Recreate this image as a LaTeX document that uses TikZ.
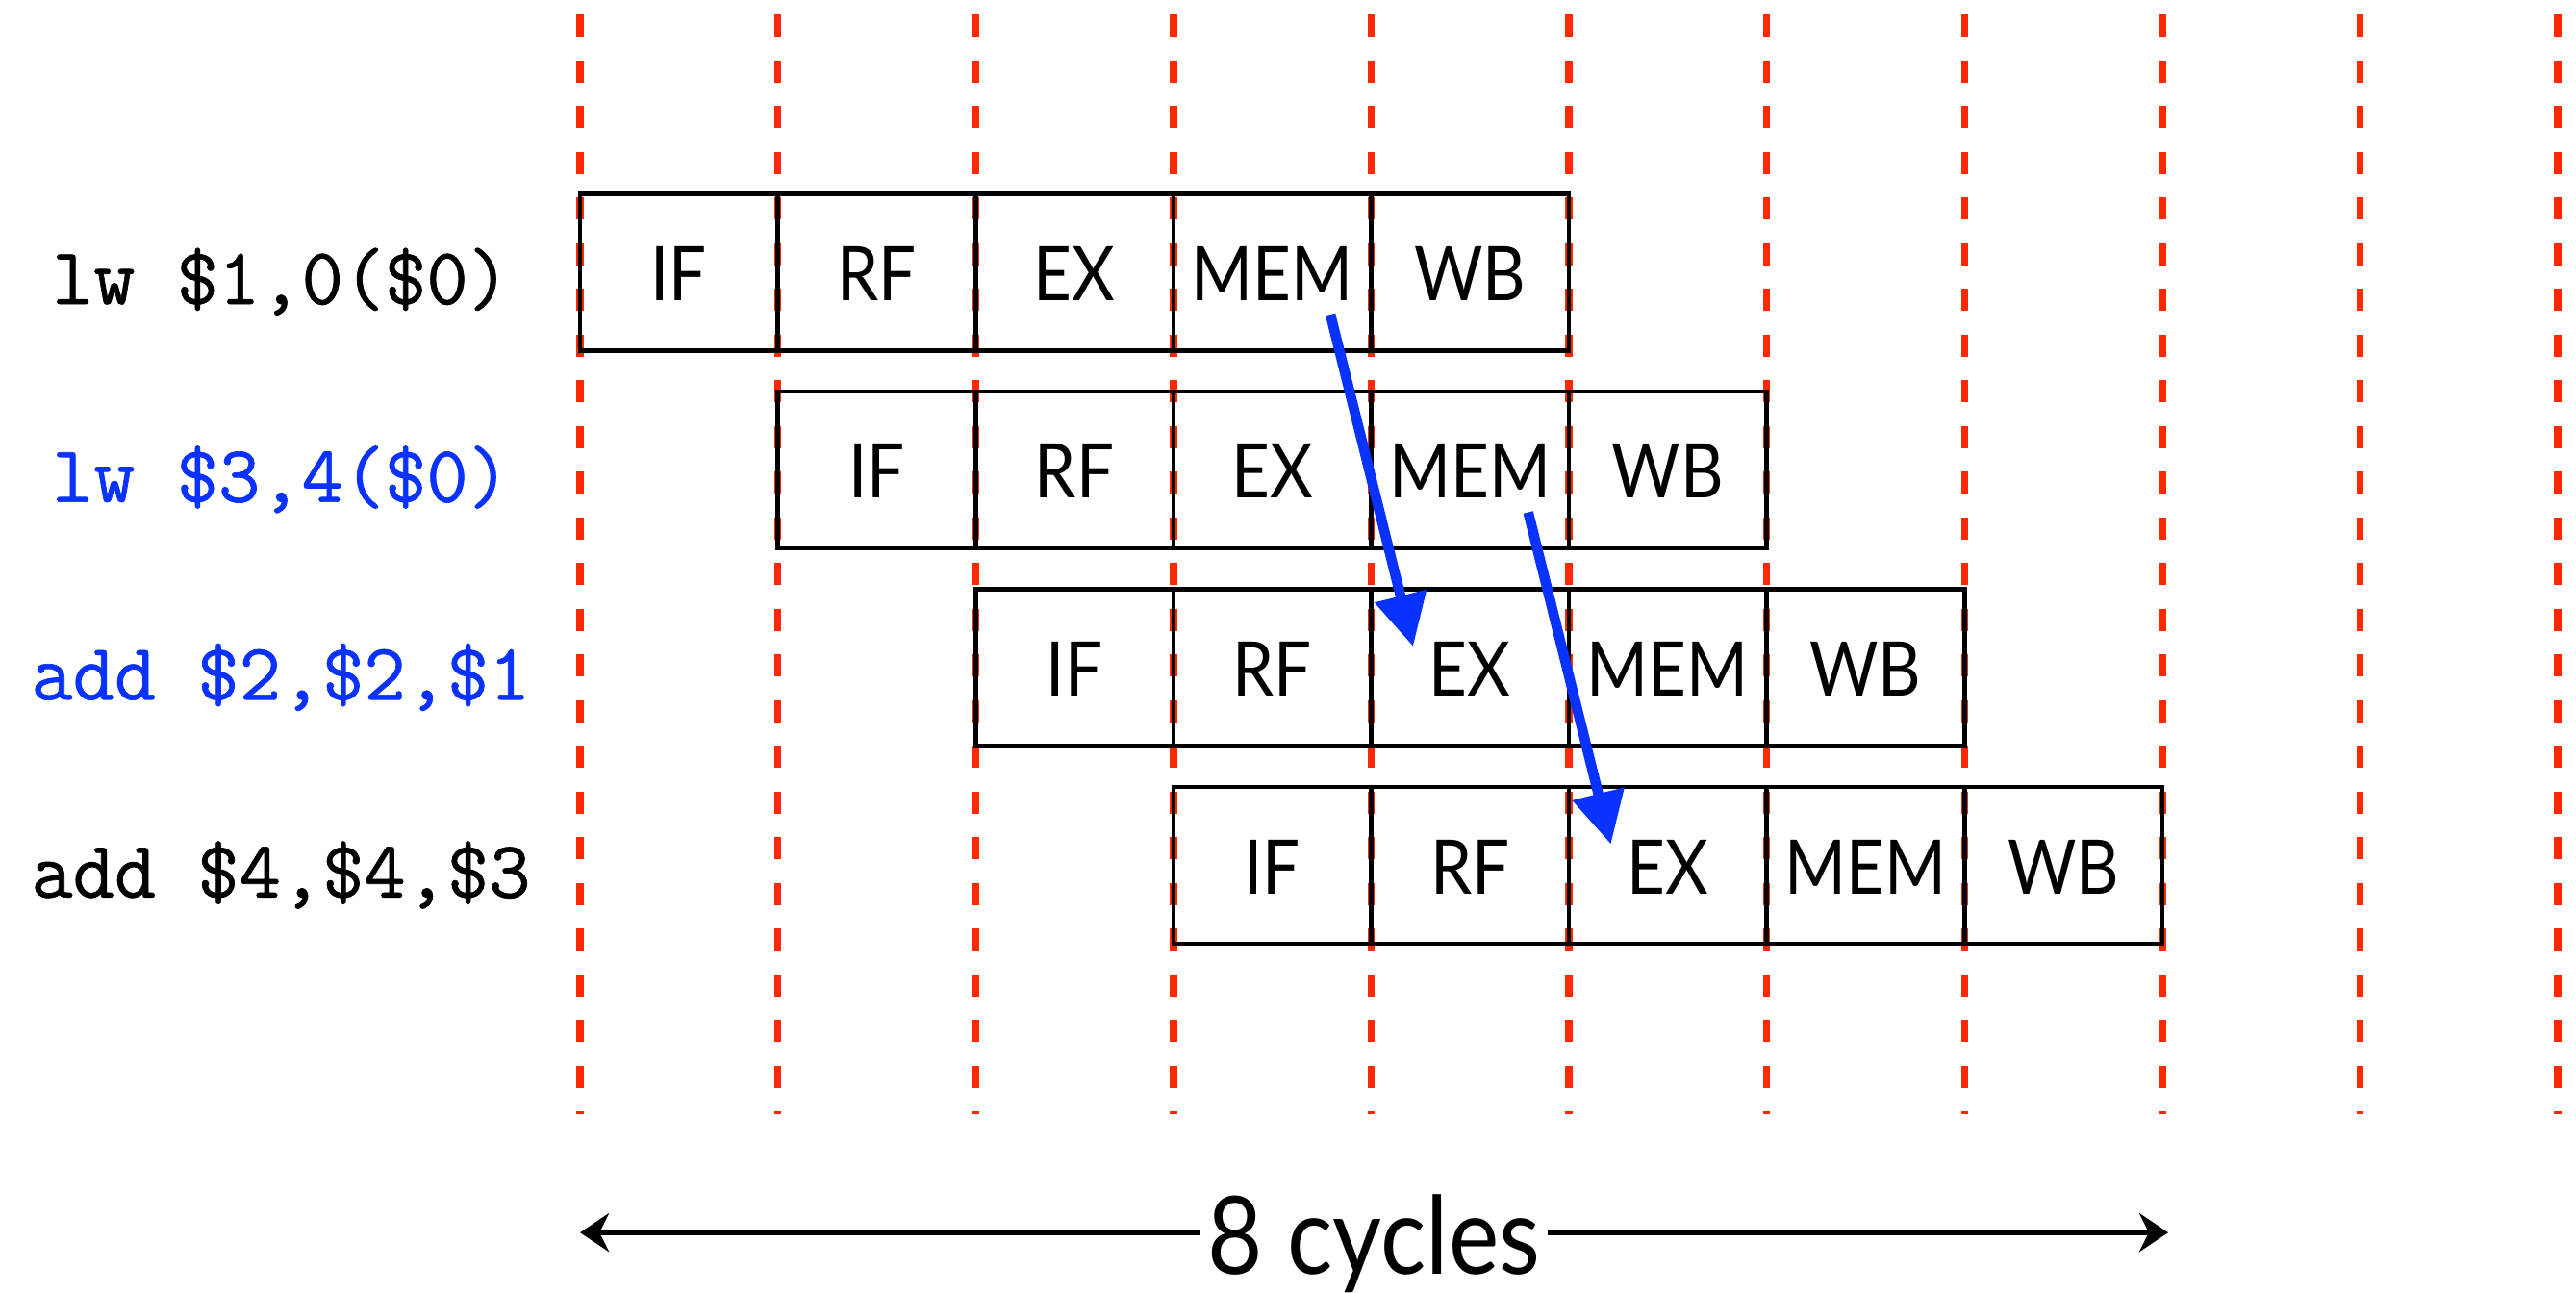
\documentclass[tikz,border=0pt]{standalone}
\usepackage{fontspec}
\setmainfont{Lato}[FakeStretch=0.88]
\setmonofont{Latin Modern Mono}[FakeBold=0.8]
\usepackage{tikz}
\usetikzlibrary{arrows.meta}
\definecolor{cyclered}{RGB}{255,40,0}
\definecolor{fwdblue}{RGB}{10,50,255}

\begin{document}
\begin{tikzpicture}[
		x=2.056cm,
		y=2.056cm,
		cyc/.style={cyclered, line width=2.1pt, dash pattern=on 0.23cm off 0.245cm},
		stage/.style={draw, line width=1.3pt, minimum width=2.056cm, minimum height=1.63cm,
			inner sep=0pt, text height=0.59cm, text depth=0cm, font=\fontsize{22.3}{27}\selectfont},
		instr/.style={anchor=base, font=\ttfamily\fontsize{23.9}{28}\selectfont},
		fwd/.style={fwdblue, line width=3pt, -{Triangle[length=0.54cm, width=0.53cm]}},
		span/.style={line width=1.9pt, -{Stealth[length=0.3cm, width=0.4cm]}}
		]
		\useasboundingbox (-2.933,0) rectangle (10.092,-6.532);
		
		% Clock cycle boundaries
		\foreach \x in {0,...,10}{
			\draw[cyc] (\x,-0.073) -- (\x,-5.632);
		}
		
		% Instructions and their pipeline stages
		\foreach \r/\txt/\col in {
			0/{lw \$1,0(\$0)}/black,
			1/{lw \$3,4(\$0)}/fwdblue,
			2/{add \$2,\$2,\$1}/fwdblue,
			3/{add \$4,\$4,\$3}/black%
		}{
			\node[instr, text=\col] (i\r) at (-1.513,-1.537-\r) {\txt};
			\foreach \s/\name in {0/IF,1/RF,2/EX,3/MEM,4/WB}{
				\node[stage] (s\r\s) at (\r+\s+0.5,-1.375-\r) {\name};
			}
		}
		
		% Forwarding from MEM to EX
		\draw[fwd] ([shift={(0.294,-0.215)}]s03.center) -- ([shift={(-0.288,0.107)}]s22.center);
		\draw[fwd] ([shift={(0.294,-0.215)}]s13.center) -- ([shift={(-0.288,0.107)}]s32.center);
		
		% Total latency
		\node[font=\fontsize{32}{38}\selectfont, anchor=base, inner sep=0.07cm] (cycles) at (4.015,-6.44) {8 cycles};
		\coordinate (lft) at (0,-6.231);
		\coordinate (rgt) at (8.03,-6.231);
		\draw[span] (lft -| cycles.west) -- (lft);
		\draw[span] (rgt -| cycles.east) -- (rgt);
		
	\end{tikzpicture}
\end{document}
